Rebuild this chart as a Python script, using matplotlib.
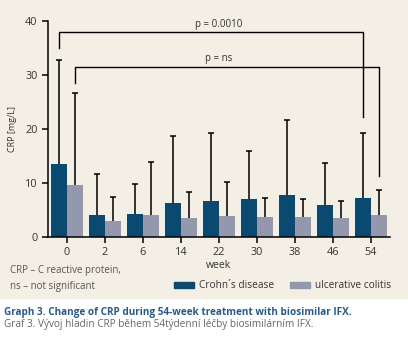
import numpy as np
import matplotlib.pyplot as plt
from matplotlib.patches import Rectangle, Patch

plt.rcParams['font.family'] = ['Open Sans', 'DejaVu Sans']

weeks = ['0', '2', '6', '14', '22', '30', '38', '46', '54']
crohn = [13.4, 4.0, 4.2, 6.2, 6.6, 7.0, 7.7, 5.9, 7.2]
crohn_err = [32.8, 11.7, 9.7, 18.6, 19.3, 15.8, 21.7, 13.6, 19.3]
colitis = [9.6, 2.9, 4.0, 3.5, 3.8, 3.7, 3.7, 3.5, 4.0]
colitis_err = [26.7, 7.4, 13.8, 8.2, 10.1, 7.2, 7.0, 6.6, 8.6]

c_cd = '#0b4a70'
c_uc = '#9498ad'
bg = '#f4efe5'
txt = '#333333'

fig = plt.figure(figsize=(4.08, 3.42), dpi=100)
fig.patches.append(Rectangle((0, 1 - 298 / 342), 1, 298 / 342, transform=fig.transFigure,
                             color=bg, zorder=-1))

ax = fig.add_axes([48 / 408, 1 - 236.7 / 342, 342 / 408, 215.7 / 342])
ax.set_facecolor(bg)

x = np.arange(len(weeks))
w = 0.41
cap = 0.08
ax.bar(x - w / 2, crohn, w, color=c_cd, zorder=2)
ax.bar(x + w / 2, colitis, w, color=c_uc, zorder=2)

# upper error bars only (line from bar top + cap)
for xs, lo, hi in [(x - w / 2, crohn, crohn_err), (x + w / 2, colitis, colitis_err)]:
    ax.vlines(xs, lo, hi, color='black', lw=1.1, zorder=3)
    ax.hlines(hi, xs - cap, xs + cap, color='black', lw=1.1, zorder=3)

# significance brackets
ax.plot([-w / 2, -w / 2, 8 - w / 2, 8 - w / 2], [35, 38, 38, 22.2], color='black', lw=1,
        clip_on=False)
ax.text(4.0, 39.3, 'p = 0.0010', ha='center', va='center', fontsize=7, color=txt)
ax.plot([w / 2, w / 2, 8 + w / 2, 8 + w / 2], [28.5, 31.5, 31.5, 11.2], color='black', lw=1,
        clip_on=False)
ax.text(4.0, 33.0, 'p = ns', ha='center', va='center', fontsize=7, color=txt)

ax.set_xlim(-0.5, 8.5)
ax.set_ylim(0, 40)
ax.set_yticks([0, 10, 20, 30, 40])
ax.set_xticks(x)
ax.set_xticklabels(weeks)
for s in ['top', 'right']:
    ax.spines[s].set_visible(False)
for s in ['left', 'bottom']:
    ax.spines[s].set_linewidth(1.1)
ax.tick_params(labelsize=7.8, labelcolor=txt, color='black', length=4, width=1.1)
ax.set_xlabel('week', fontsize=7.5, color=txt, labelpad=1)
ax.set_ylabel('CRP [mg/L]', fontsize=6.5, color=txt, labelpad=6)

fig.text(10 / 408, 1 - 270 / 342, 'CRP – C reactive protein,', fontsize=7, color='#555555',
         va='center')
fig.text(10 / 408, 1 - 287 / 342, 'ns – not significant', fontsize=7, color='#555555',
         va='center')

handles = [Patch(color=c_cd, label='Crohn´s disease'), Patch(color=c_uc, label='ulcerative colitis')]
fig.legend(handles=handles, loc='center left', bbox_to_anchor=(170 / 408, 1 - 286 / 342),
           ncol=2, frameon=False, fontsize=7.3, handlelength=2.0, handleheight=0.55,
           handletextpad=0.5, columnspacing=1.5, labelcolor=txt, borderaxespad=0)

fig.text(4 / 408, 1 - 312 / 342,
         'Graph 3. Change of CRP during 54-week treatment with biosimilar IFX.',
         fontsize=7.2, fontweight='bold', color='#2a5a8a', va='center')
fig.text(4 / 408, 1 - 324 / 342,
         'Graf 3. Vývoj hladin CRP během 54týdenní léčby biosimilárním IFX.',
         fontsize=7.2, color='#666666', va='center')

fig.savefig('out.png', dpi=100)
